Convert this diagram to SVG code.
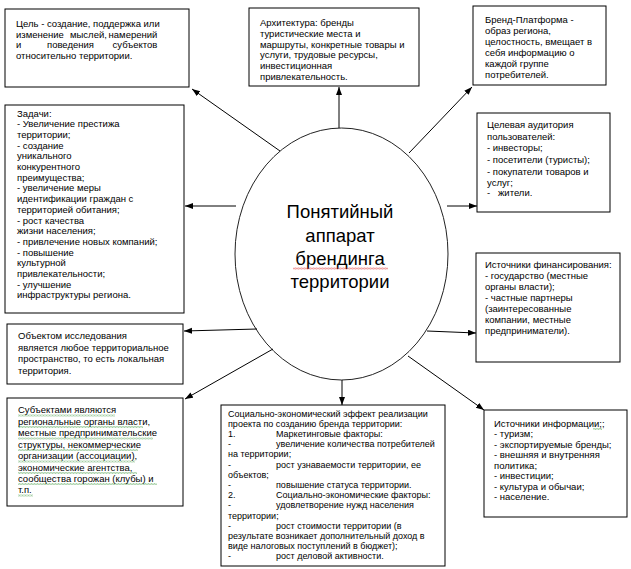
<svg xmlns="http://www.w3.org/2000/svg" width="631" height="569" viewBox="0 0 631 569">
<defs>
<style>
.box{fill:#fff;stroke:#000;stroke-width:1}
.t{font-family:"Liberation Sans",Arial,sans-serif;font-size:9.5px;fill:#000}
.s{font-family:"Liberation Sans",Arial,sans-serif;font-size:9px;fill:#000}
.c{stroke:#000;stroke-width:1;fill:none;marker-end:url(#ah)}
.big{font-family:"Liberation Sans",Arial,sans-serif;font-size:18.5px;fill:#000;text-anchor:middle}
.e{text-anchor:end}
</style>
<marker id="ah" markerWidth="9" markerHeight="7" refX="8" refY="3" orient="auto" markerUnits="userSpaceOnUse">
<path d="M0,0 L8,3 L0,6 z" fill="#000"/>
</marker>
<pattern id="gw" width="3" height="2" patternUnits="userSpaceOnUse">
<path d="M0,1.7 L0.75,0.3 L1.5,1.7 L2.25,0.3 L3,1.7" stroke="#5aa85a" stroke-width="0.5" fill="none"/>
</pattern>
<pattern id="rw" width="3" height="2" patternUnits="userSpaceOnUse">
<path d="M0,1.7 L0.75,0.3 L1.5,1.7 L2.25,0.3 L3,1.7" stroke="#e03030" stroke-width="0.5" fill="none"/>
</pattern>
</defs>

<g id="center">
<ellipse cx="341.5" cy="254" rx="106.5" ry="126" fill="#fff" stroke="#222" stroke-width="1"/>
<text class="big"><tspan x="340" y="218">Понятийный</tspan><tspan x="340" y="242">аппарат</tspan><tspan x="340" y="265">брендинга</tspan><tspan x="340" y="288">территории</tspan></text>
<rect x="293" y="267.5" width="95" height="2" fill="url(#rw)"/>
</g>

<g id="connectors">
<line class="c" x1="280" y1="151" x2="192" y2="89"/>
<line class="c" x1="339" y1="128" x2="339" y2="87"/>
<line class="c" x1="409" y1="153" x2="472" y2="87"/>
<line class="c" x1="236" y1="206" x2="185" y2="206"/>
<line class="c" x1="447" y1="206" x2="477" y2="206"/>
<line class="c" x1="257" y1="329" x2="184" y2="331"/>
<line class="c" x1="427" y1="331" x2="476" y2="333"/>
<line class="c" x1="273" y1="349" x2="185" y2="399"/>
<line class="c" x1="342" y1="380" x2="342" y2="405"/>
<line class="c" x1="408" y1="356" x2="484" y2="410"/>
</g>

<g id="goal">
<rect class="box" x="5" y="9" width="184" height="78"/>
<text class="t">
<tspan x="16" y="26.5">Цель - создание, поддержка или</tspan>
<tspan x="16" y="37.5">изменение</tspan><tspan x="70" y="37.5">мыслей,</tspan><tspan class="e" x="160" y="37.5">намерений</tspan>
<tspan x="16" y="48">и</tspan><tspan x="47" y="48">поведения</tspan><tspan class="e" x="160" y="48">субъектов</tspan>
<tspan x="16" y="59">относительно территории.</tspan>
</text>
</g>

<g id="architecture">
<rect class="box" x="249" y="8" width="170" height="78"/>
<text class="t">
<tspan x="260" y="26">Архитектура: бренды</tspan>
<tspan x="260" y="36.8">туристические места и</tspan>
<tspan x="260" y="47.6">маршруты, конкретные товары и</tspan>
<tspan x="260" y="58.4">услуги, трудовые ресурсы,</tspan>
<tspan x="260" y="69.2">инвестиционная</tspan>
<tspan x="260" y="80">привлекательность.</tspan>
</text>
</g>

<g id="platform">
<rect class="box" x="473" y="6" width="133" height="79"/>
<text class="t">
<tspan x="485" y="23">Бренд-Платформа  -</tspan>
<tspan x="485" y="34">образ региона,</tspan>
<tspan x="485" y="45">целостность, вмещает  в</tspan>
<tspan x="485" y="56">себя информацию  о</tspan>
<tspan x="485" y="67">каждой группе</tspan>
<tspan x="485" y="78">потребителей.</tspan>
</text>
</g>

<g id="tasks">
<rect class="box" x="5" y="105" width="179" height="208"/>
<text class="t">
<tspan x="17" y="116.5">Задачи:</tspan>
<tspan x="17" y="127.2">- Увеличение престижа</tspan>
<tspan x="17" y="137.9">территории;</tspan>
<tspan x="17" y="148.6">- создание</tspan>
<tspan x="17" y="159.3">уникального</tspan>
<tspan x="17" y="170">конкурентного</tspan>
<tspan x="17" y="180.7">преимущества;</tspan>
<tspan x="17" y="191.4">- увеличение меры</tspan>
<tspan x="17" y="202.1">идентификации  граждан с</tspan>
<tspan x="17" y="212.8">территорией обитания;</tspan>
<tspan x="17" y="223.5">- рост качества</tspan>
<tspan x="17" y="234.2">жизни населения;</tspan>
<tspan x="17" y="244.9">- привлечение новых компаний;</tspan>
<tspan x="17" y="255.6">- повышение</tspan>
<tspan x="17" y="266.3">культурной</tspan>
<tspan x="17" y="277">привлекательности;</tspan>
<tspan x="17" y="287.7">- улучшение</tspan>
<tspan x="17" y="298.4">инфраструктуры  региона.</tspan>
</text>
</g>

<g id="audience">
<rect class="box" x="477" y="113" width="133" height="99"/>
<text class="t">
<tspan x="487" y="128">Целевая аудитория</tspan>
<tspan x="487" y="139.7">пользователей:</tspan>
<tspan x="487" y="151.4">- инвесторы;</tspan>
<tspan x="487" y="163">- посетители (туристы);</tspan>
<tspan x="487" y="174.6">- покупатели товаров и</tspan>
<tspan x="487" y="185.5">услуг;</tspan>
<tspan x="487" y="196">-</tspan><tspan x="498" y="196">жители.</tspan>
</text>
</g>

<g id="finance">
<rect class="box" x="476" y="253" width="144" height="109"/>
<text class="t">
<tspan x="485" y="267.5">Источники финансирования:</tspan>
<tspan x="485" y="278.6">- государство (местные</tspan>
<tspan x="485" y="289.7">органы власти);</tspan>
<tspan x="485" y="300.8">- частные партнеры</tspan>
<tspan x="485" y="311.9">(заинтересованные</tspan>
<tspan x="485" y="323">компании, местные</tspan>
<tspan x="485" y="334.1">предприниматели).</tspan>
</text>
</g>

<g id="object">
<rect class="box" x="7" y="324" width="176" height="60"/>
<text class="t">
<tspan x="18" y="339">Объектом исследования</tspan>
<tspan x="18" y="350.5">является любое территориальное</tspan>
<tspan x="18" y="362">пространство, то есть локальная</tspan>
<tspan x="18" y="373.5">территория.</tspan>
</text>
</g>

<g id="subjects">
<rect class="box" x="7" y="398" width="176" height="108"/>
<rect x="18" y="414.5" width="97" height="2" fill="url(#gw)"/>
<rect x="18" y="426" width="125" height="2" fill="url(#gw)"/>
<rect x="18" y="437.5" width="135" height="2" fill="url(#gw)"/>
<rect x="18" y="449" width="120" height="2" fill="url(#gw)"/>
<rect x="18" y="460.5" width="117" height="2" fill="url(#gw)"/>
<rect x="18" y="472" width="119" height="2" fill="url(#gw)"/>
<rect x="18" y="483" width="139" height="2" fill="url(#gw)"/>
<rect x="18" y="494.5" width="15" height="2" fill="url(#gw)"/>
<text class="t">
<tspan x="18" y="413">Субъектами являются</tspan>
<tspan x="18" y="424.5">региональные органы власти,</tspan>
<tspan x="18" y="436">местные предпринимательские</tspan>
<tspan x="18" y="447.5">структуры, некоммерческие</tspan>
<tspan x="18" y="459">организации (ассоциации),</tspan>
<tspan x="18" y="470.5">экономические агентства,</tspan>
<tspan x="18" y="481.5">сообщества горожан (клубы) и</tspan>
<tspan x="18" y="493">т.п.</tspan>
</text>
</g>

<g id="effect">
<rect class="box" x="221" y="405" width="224" height="161"/>
<text class="s">
<tspan x="228" y="416.5">Социально-экономический эффект реализации</tspan>
<tspan x="228" y="426.7">проекта по созданию бренда территории:</tspan>
<tspan x="228" y="436.9">1.</tspan><tspan x="276" y="436.9">Маркетинговые факторы:</tspan>
<tspan x="228" y="447.1">-</tspan><tspan x="276" y="447.1">увеличение количества потребителей</tspan>
<tspan x="228" y="457.3">на территории;</tspan>
<tspan x="228" y="467.5">-</tspan><tspan x="276" y="467.5">рост узнаваемости территории, ее</tspan>
<tspan x="228" y="477.7">объектов;</tspan>
<tspan x="228" y="487.9">-</tspan><tspan x="276" y="487.9">повышение статуса территории.</tspan>
<tspan x="228" y="498.1">2.</tspan><tspan x="276" y="498.1">Социально-экономические факторы:</tspan>
<tspan x="228" y="508.3">-</tspan><tspan x="276" y="508.3">удовлетворение нужд населения</tspan>
<tspan x="228" y="518.5">территории;</tspan>
<tspan x="228" y="528.7">-</tspan><tspan x="276" y="528.7">рост стоимости территории (в</tspan>
<tspan x="228" y="538.9">результате возникает дополнительный доход в</tspan>
<tspan x="228" y="549.1">виде налоговых поступлений в бюджет);</tspan>
<tspan x="228" y="559.3">-</tspan><tspan x="276" y="559.3">рост деловой активности.</tspan>
</text>
</g>

<g id="info">
<rect class="box" x="484" y="410" width="143" height="107"/>
<rect x="593" y="428" width="9" height="2" fill="url(#gw)"/>
<text class="t">
<tspan x="494" y="426.5">Источники  информации;;</tspan>
<tspan x="494" y="437">- туризм;</tspan>
<tspan x="494" y="447.5">- экспортируемые бренды;</tspan>
<tspan x="494" y="458">- внешняя и внутренняя</tspan>
<tspan x="494" y="468.5">политика;</tspan>
<tspan x="494" y="479">- инвестиции;</tspan>
<tspan x="494" y="489.5">- культура и обычаи;</tspan>
<tspan x="494" y="500">- население.</tspan>
</text>
</g>
</svg>
